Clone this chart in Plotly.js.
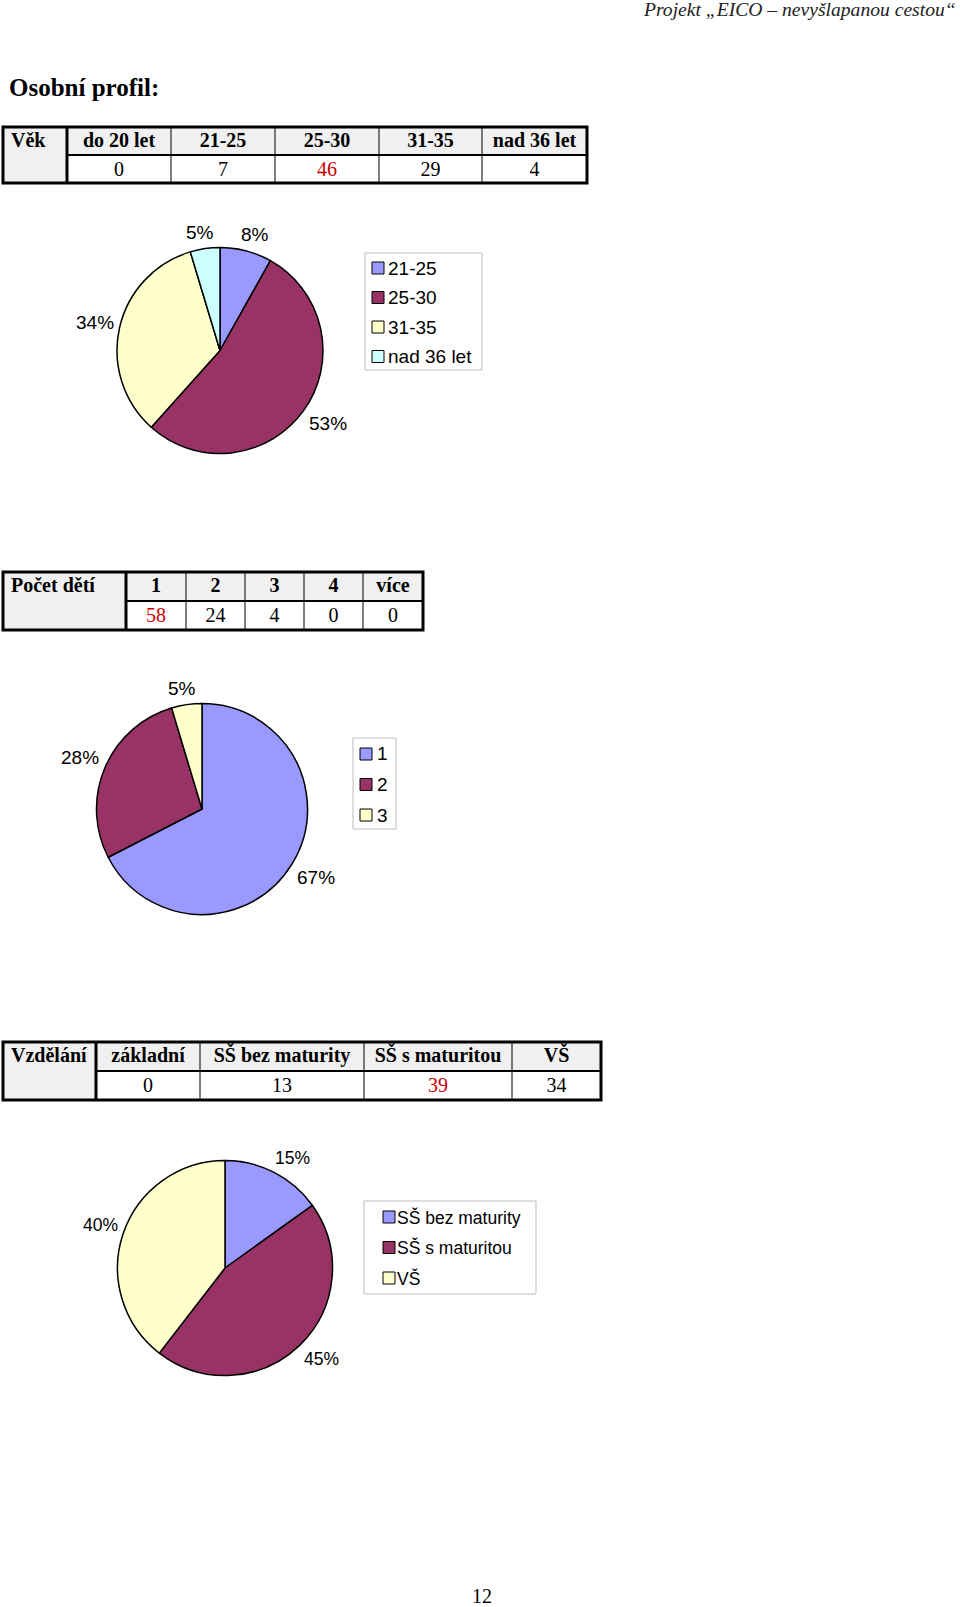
<!DOCTYPE html>
<html>
<head>
<meta charset="utf-8">
<script src="https://cdn.plot.ly/plotly-3.0.1.min.js"></script>
<style>html,body{margin:0;padding:0;background:#fff;}#chart{width:960px;height:1607px;}</style>
</head>
<body>
<div id="chart"></div>
<script>
// ---------- data ----------
const pageHeader = 'Projekt „EICO – nevyšlapanou cestou“';
const pageTitle = 'Osobní profil:';
const pageNumber = '12';

const ageTitle = 'Věk';
const ageCats = ['do 20 let', '21-25', '25-30', '31-35', 'nad 36 let'];
const ageCounts = [0, 7, 46, 29, 4];

const kidsTitle = 'Počet dětí';
const kidsCats = ['1', '2', '3', '4', 'více'];
const kidsCounts = [58, 24, 4, 0, 0];

const eduTitle = 'Vzdělání';
const eduCats = ['základní', 'SŠ bez maturity', 'SŠ s maturitou', 'VŠ'];
const eduCounts = [0, 13, 39, 34];

// ---------- styling / layout ----------
const W = 960, H = 1607;
const sliceColors = ['#9999FF', '#993366', '#FFFFCC', '#CCFFFF'];
const GRAY = '#f0f0f0';
const RED = '#cc0000';
const SERIF = 'Liberation Serif, Times New Roman, serif';
const SANS = 'Liberation Sans, Arial, sans-serif';

const px = x => x / W;
const py = y => 1 - y / H;

const traces = [];
const shapes = [];
const annotations = [];

function line(x0, y0, x1, y1, w, color) {
  shapes.push({type: 'line', xref: 'paper', yref: 'paper', x0: px(x0), x1: px(x1), y0: py(y0), y1: py(y1),
    line: {color: color || '#000', width: w}});
}

function addTable(title, cats, counts, edges, top, hh, ch) {
  const maxV = Math.max(...counts);
  const n = cats.length;
  const L = edges[0], R = edges[n + 1], S = edges[1], B = top + hh + ch;
  const lift = 3; // text sits a little higher in the reference cells
  traces.push({
    type: 'table',
    domain: {x: [px(L), px(R)], y: [py(B + 12), py(top - lift)]},
    columnwidth: edges.slice(1).map((e, i) => e - edges[i]),
    header: {
      values: [[title]].concat(cats.map(c => [c])),
      align: ['left'].concat(cats.map(() => 'center')),
      height: hh + 1,
      fill: {color: GRAY},
      line: {color: GRAY, width: 1},
      font: {family: SERIF, size: 20, color: '#000', weight: 'bold'}
    },
    cells: {
      values: [['']].concat(counts.map(v => [String(v)])),
      align: 'center',
      height: ch + lift - 1,
      fill: {color: [GRAY].concat(cats.map(() => '#ffffff'))},
      line: {color: [GRAY].concat(cats.map(() => '#ffffff')), width: 1},
      font: {family: SERIF, size: 20, color: ['#000'].concat(counts.map(v => v === maxV ? RED : '#000'))}
    }
  });
  shapes.push({type: 'rect', xref: 'paper', yref: 'paper', x0: px(L - 3), x1: px(R + 3), y0: py(top - 1), y1: py(top - lift - 3),
    line: {width: 0}, fillcolor: '#ffffff'});
  for (let k = 2; k <= n; k++) line(edges[k], top, edges[k], B, 1);
  line(S, top + hh, R, top + hh, 2);
  line(S, top, S, B, 3);
  shapes.push({type: 'rect', xref: 'paper', yref: 'paper', x0: px(L), x1: px(R), y0: py(B), y1: py(top), line: {color: '#000', width: 3}});
}

function addPie(cats, counts, cx, cy, r, fs, lg) {
  const keep = cats.map((c, i) => i).filter(i => counts[i] > 0);
  const labels = keep.map(i => cats[i]);
  const values = keep.map(i => counts[i]);
  const colors = sliceColors.slice(0, keep.length);
  traces.push({
    type: 'pie',
    labels: labels,
    values: values,
    sort: false,
    direction: 'clockwise',
    rotation: 0,
    marker: {colors: colors, line: {color: '#000', width: 1.5}},
    textinfo: 'none',
    domain: {x: [px(cx - r), px(cx + r)], y: [py(cy + r), py(cy - r)]},
    showlegend: false,
    hoverinfo: 'label+value+percent'
  });
  // percentage labels just outside each slice's middle angle
  const total = values.reduce((a, b) => a + b, 0);
  let cum = 0;
  values.forEach(v => {
    const theta = (cum + v / 2) / total * 2 * Math.PI;
    cum += v;
    const s = Math.sin(theta), c = Math.cos(theta);
    const txt = Math.round(v / total * 100) + '%';
    const hw = ((txt.length - 1) * 0.556 + 0.889) * fs / 2;
    const hh = fs * 0.53;
    const rr = r + 6;
    const ox = Math.sign(s) * hw * Math.min(1, Math.abs(s) / 0.5);
    const oy = -Math.sign(c) * hh * Math.min(1, Math.abs(c) / 0.5);
    annotations.push({text: txt, xref: 'paper', yref: 'paper', x: px(cx + rr * s + ox), y: py(cy - rr * c + oy),
      xanchor: 'center', yanchor: 'middle', showarrow: false, font: {family: SANS, size: fs, color: '#000'}});
  });
  const b = lg;
  shapes.push({type: 'rect', xref: 'paper', yref: 'paper', x0: px(b.x0), x1: px(b.x1), y0: py(b.y1), y1: py(b.y0),
    line: {color: '#bdbdbd', width: 1}, fillcolor: '#ffffff', layer: 'below'});
  labels.forEach((lab, i) => {
    const yc = b.y0 + b.first + i * b.step;
    shapes.push({type: 'rect', xref: 'paper', yref: 'paper', x0: px(b.x0 + b.sw), x1: px(b.x0 + b.sw + 12),
      y0: py(yc + 6), y1: py(yc - 6), line: {color: '#000', width: 1}, fillcolor: colors[i]});
    annotations.push({text: lab, xref: 'paper', yref: 'paper', x: px(b.x0 + b.tx), y: py(yc), xanchor: 'left', yanchor: 'middle',
      showarrow: false, font: {family: SANS, size: b.fs, color: '#000'}});
  });
}

addTable(ageTitle, ageCats, ageCounts, [3, 67, 171, 275, 379, 482, 587], 127, 28, 28);
addPie(ageCats, ageCounts, 220, 350.5, 103, 19, {x0: 365, x1: 482, y0: 253, y1: 370, first: 15, step: 29.5, sw: 7, tx: 21, fs: 19});

addTable(kidsTitle, kidsCats, kidsCounts, [3, 126, 186, 245, 304, 363, 423], 572, 29, 29);
addPie(kidsCats, kidsCounts, 202, 809, 105.5, 19, {x0: 353, x1: 396, y0: 738, y1: 829, first: 16, step: 30.5, sw: 7, tx: 22, fs: 19});

addTable(eduTitle, eduCats, eduCounts, [3, 96, 200, 364, 512, 601], 1042, 29, 29);
addPie(eduCats, eduCounts, 225, 1268, 107.5, 17.5, {x0: 364, x1: 536, y0: 1201, y1: 1294, first: 16, step: 30.5, sw: 19, tx: 31, fs: 17.5});

annotations.push({text: pageHeader, xref: 'paper', yref: 'paper', x: px(958), y: py(9), xanchor: 'right', yanchor: 'middle',
  showarrow: false, font: {family: SERIF, size: 19.6, color: '#222', style: 'italic'}});
annotations.push({text: pageTitle, xref: 'paper', yref: 'paper', x: px(7), y: py(87), xanchor: 'left', yanchor: 'middle',
  showarrow: false, font: {family: SERIF, size: 25, color: '#000', weight: 'bold'}});
annotations.push({text: pageNumber, xref: 'paper', yref: 'paper', x: px(482), y: py(1596), xanchor: 'center', yanchor: 'middle',
  showarrow: false, font: {family: SERIF, size: 20, color: '#000'}});

const layout = {
  width: W, height: H,
  margin: {l: 0, r: 0, t: 0, b: 0, pad: 0},
  paper_bgcolor: '#ffffff', plot_bgcolor: '#ffffff',
  showlegend: false,
  shapes: shapes,
  annotations: annotations
};

Plotly.newPlot('chart', traces, layout, {displayModeBar: false, staticPlot: true});
</script>
</body>
</html>
